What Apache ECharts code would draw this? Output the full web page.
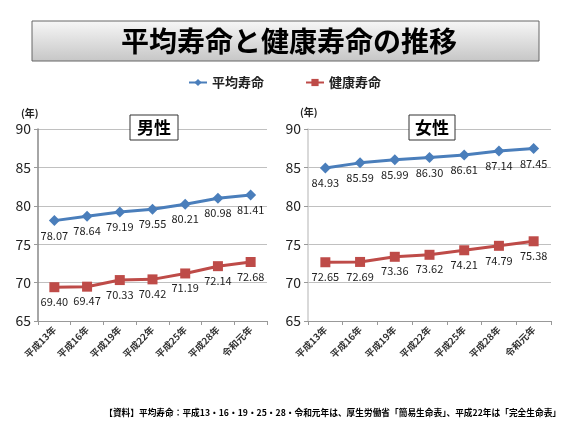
<!DOCTYPE html>
<html>
<head>
<meta charset="utf-8">
<script src="https://cdn.jsdelivr.net/npm/echarts@6/dist/echarts.min.js"></script>
<style>
html,body{margin:0;padding:0;background:#fff;}
#c{width:567px;height:429px;}
</style>
</head>
<body>
<div id="c"></div>
<script>
var categories = ['平成13年','平成16年','平成19年','平成22年','平成25年','平成28年','令和元年'];
var maleLife = [78.07,78.64,79.19,79.55,80.21,80.98,81.41];
var maleHealth = [69.40,69.47,70.33,70.42,71.19,72.14,72.68];
var femaleLife = [84.93,85.59,85.99,86.30,86.61,87.14,87.45];
var femaleHealth = [72.65,72.69,73.36,73.62,74.21,74.79,75.38];
var seriesNames = ['平均寿命','健康寿命'];
var yMin = 65, yMax = 90, yStep = 5;
var titleText = '平均寿命と健康寿命の推移';
var panelTitles = ['男性','女性'];
var unitText = '(年)';
var sourceText = '【資料】平均寿命：平成13・16・19・25・28・令和元年は、厚生労働省「簡易生命表」、平成22年は「完全生命表」';

var FF = '"Noto Sans CJK JP","Noto Sans",sans-serif';
var BLUE = '#4a7ebb', RED = '#be4b48';

var chart = echarts.init(document.getElementById('c'), null, {renderer:'canvas'});

function xAxis(gi){
  return {
    type:'category', gridIndex:gi, data:categories, boundaryGap:true,
    axisLine:{show:true, lineStyle:{color:'#999', width:1}},
    axisTick:{show:true, length:4, lineStyle:{color:'#999'}},
    axisLabel:{rotate:45, fontSize:9.5, fontWeight:'bold', color:'#333', fontFamily:FF, margin:7, interval:0}
  };
}
function yAxis(gi, lineColor){
  return {
    type:'value', gridIndex:gi, min:yMin, max:yMax, interval:yStep,
    axisLine:{show:true, lineStyle:{color:lineColor, width:1.5}},
    axisTick:{show:true, length:4, inside:false, lineStyle:{color:'#999'}},
    axisLabel:{fontSize:14, color:'#222', fontFamily:FF, margin:7},
    splitLine:{show:true, lineStyle:{color:'#c0c0c0', width:1}}
  };
}
function lineSeries(name, data, gi, color, symbol, size){
  return {
    type:'line', name:name, data:data, xAxisIndex:gi, yAxisIndex:gi,
    symbol:symbol, symbolSize:size, showAllSymbol:true,
    lineStyle:{color:color, width:3},
    itemStyle:{color:color},
    label:{show:true, position:'bottom', distance:4, fontSize:11, color:'#222', fontFamily:FF,
      formatter:function(p){return Number(p.value).toFixed(2);}},
    emphasis:{disabled:true},
    animation:false
  };
}

var option = {
  backgroundColor:'#fff',
  animation:false,
  textStyle:{fontFamily:FF},
  legend:{
    data:seriesNames, left:183, top:71, itemWidth:18, itemHeight:9, itemGap:41,
    textStyle:{fontSize:13, fontWeight:'bold', color:'#222', fontFamily:FF},
    selectedMode:false
  },
  grid:[
    {left:38, top:129, width:229, height:192, containLabel:false},
    {left:308, top:129, width:243, height:192, containLabel:false}
  ],
  xAxis:[xAxis(0), xAxis(1)],
  yAxis:[yAxis(0,'#888'), yAxis(1,'#ccc')],
  series:[
    lineSeries(seriesNames[0], maleLife, 0, BLUE, 'diamond', 11),
    lineSeries(seriesNames[1], maleHealth, 0, RED, 'rect', 10),
    lineSeries(seriesNames[0], femaleLife, 1, BLUE, 'diamond', 11),
    lineSeries(seriesNames[1], femaleHealth, 1, RED, 'rect', 10)
  ],
  graphic:[
    {type:'rect', z:10, shape:{x:32, y:21, width:507, height:40},
      style:{fill:new echarts.graphic.LinearGradient(0,0,0,1,[{offset:0,color:'#f7f7f7'},{offset:1,color:'#c6c6c6'}]), stroke:'#666', lineWidth:1}},
    {type:'text', z:11, x:289, y:41, style:{text:titleText, font:'bold 28px '+FF, fill:'#000', textAlign:'center', textVerticalAlign:'middle'}},
    {type:'rect', z:10, shape:{x:130, y:115, width:48, height:25}, style:{fill:'#fff', stroke:'#333', lineWidth:1}},
    {type:'text', z:11, x:154, y:128, style:{text:panelTitles[0], font:'bold 17px '+FF, fill:'#000', textAlign:'center', textVerticalAlign:'middle'}},
    {type:'rect', z:10, shape:{x:409, y:115, width:46, height:25}, style:{fill:'#fff', stroke:'#333', lineWidth:1}},
    {type:'text', z:11, x:432, y:128, style:{text:panelTitles[1], font:'bold 17px '+FF, fill:'#000', textAlign:'center', textVerticalAlign:'middle'}},
    {type:'text', z:11, x:21, y:113, style:{text:unitText, font:'bold 10px '+FF, fill:'#222', textAlign:'left', textVerticalAlign:'middle'}},
    {type:'text', z:11, x:300, y:112, style:{text:unitText, font:'bold 10px '+FF, fill:'#222', textAlign:'left', textVerticalAlign:'middle'}},
    {type:'text', z:11, x:561, y:413, style:{text:sourceText, font:'bold 8.7px '+FF, fill:'#000', textAlign:'right', textVerticalAlign:'middle'}}
  ]
};
chart.setOption(option);
</script>
</body>
</html>
